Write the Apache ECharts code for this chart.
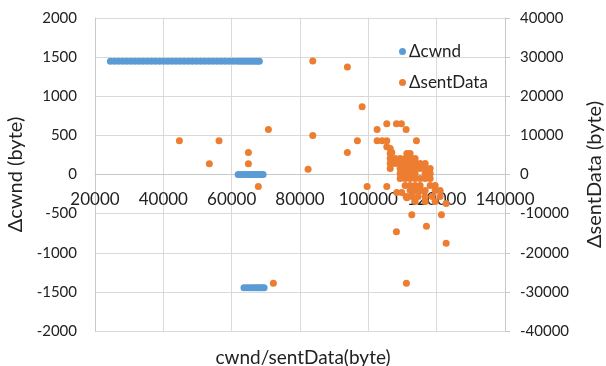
<!DOCTYPE html>
<html>
<head>
<meta charset="utf-8">
<script src="https://cdn.jsdelivr.net/npm/echarts@6/dist/echarts.min.js"></script>
<style>html,body{margin:0;padding:0;background:#fff;}#c{width:606px;height:366px;}</style>
</head>
<body>
<div id="c"></div>
<script>
// Δcwnd series (x = cwnd, y = Δcwnd), left axis
const cwndRowHighX = [24500,25700,26900,28100,29300,30500,31700,32900,34100,35300,36500,37700,38900,40100,41300,42500,43700,44900,46100,47300,48500,49700,50900,52100,53300,54500,55700,56900,58100,59300,60500,61700,62600,63400,64200,65000,65800,66600,67400,68100];
const cwndRowZeroX = [61900,62800,63600,64300,65000,65600,66200,66800,67400,68000,68600,69200];
const cwndRowLowX = [63600,64400,65200,65900,66600,67200,67800,68400,69000,69500];
const cwndHigh = 1448, cwndZero = 0, cwndLow = -1448;

// ΔsentData series (x = sentData, y = ΔsentData), right axis
const sentX = [44700,53470,56300,64900,64900,70750,67800,72200,83740,93870,98180,83740,96800,93870,82370,102570,105400,108220,109680,111060,102570,104030,105400,114080,105400,106870,99650,105400,108330,109790,111260,112720,108220,117010,121400,122770,111150,122770,
 106400,
 106400,111270,112230,
 106400,107840,109310,110770,112230,113700,
 106400,107840,109310,110770,112230,113700,115160,116630,
 106400,109310,110770,112230,113700,115160,116630,118090,
 109310,110770,112230,113700,116630,118090,
 109310,110770,112230,113700,115160,116630,118090,
 110770,112230,113700,115160,118090,119550,
 112230,113700,115160,116630,119550,121020,
 111060,112820,114570,116630,118670,121020,
 113700,116630,119550];
const sentY = [8620,2740,8620,5630,2740,11500,-3070,-27800,28980,27450,17320,9980,8620,5630,1360,11510,12970,12970,12970,11510,8620,8620,8620,8620,7090,5630,-3070,-3070,-4600,-4600,-5960,-10310,-14660,-13220,-10310,-17570,-27800,-7420,
 6650,
 5370,5370,5370,
 4090,4090,4090,4090,4090,4090,
 2810,2810,2810,2810,2810,2810,2810,2810,
 1530,1530,1530,1530,1530,1530,1530,1530,
 260,260,260,260,260,260,
 -1020,-1020,-1020,-1020,-1020,-1020,-1020,
 -2810,-2810,-2810,-2810,-2810,-2810,
 -4090,-4090,-4090,-4090,-4090,-4090,
 -5630,-5630,-5630,-5630,-5630,-5630,
 -6910,-6910,-6910];

const seriesNames = ['Δcwnd','ΔsentData'];
const xTitle = 'cwnd/sentData(byte)';
const yLeftTitle = 'Δcwnd (byte)';
const yRightTitle = 'ΔsentData (byte)';

const cwndData = [].concat(
  cwndRowHighX.map(x => [x, cwndHigh]),
  cwndRowZeroX.map(x => [x, cwndZero]),
  cwndRowLowX.map(x => [x, cwndLow])
);
const sentData = sentX.map((x, i) => [x, sentY[i]]);

const FONT = 'Lato';
const plain = v => String(v);
const chart = echarts.init(document.getElementById('c'), null, {renderer: 'canvas'});
chart.setOption({
  animation: false,
  backgroundColor: '#fff',
  textStyle: {fontFamily: FONT},
  grid: {left: 95, right: 101, top: 18, bottom: 35, containLabel: false, outerBoundsMode: 'none'},
  legend: {
    orient: 'vertical', left: 394, top: 38,
    itemWidth: 7, itemHeight: 7, itemGap: 14, icon: 'circle',
    textStyle: {fontFamily: FONT, fontSize: 17, color: '#222', padding: [0,0,0,-2]},
    data: seriesNames
  },
  xAxis: {
    type: 'value', min: 20000, max: 140000, interval: 20000,
    position: 'bottom', offset: -156.5,
    axisLine: {show: true, onZero: false, lineStyle: {color: '#c8c8c8', width: 1}},
    axisTick: {show: false},
    axisLabel: {fontFamily: FONT, fontSize: 17, color: '#222', margin: 17, formatter: plain},
    splitLine: {show: true, lineStyle: {color: '#d9d9d9', width: 1}}
  },
  yAxis: [
    {
      type: 'value', min: -2000, max: 2000, interval: 500, position: 'left',
      name: yLeftTitle, nameLocation: 'middle', nameGap: 63, nameRotate: 90,
      nameTextStyle: {fontFamily: FONT, fontSize: 20, color: '#222'},
      axisLine: {show: true, lineStyle: {color: '#c8c8c8'}},
      axisTick: {show: false},
      axisLabel: {fontFamily: FONT, fontSize: 15, color: '#222', margin: 18, formatter: plain},
      splitLine: {show: true, lineStyle: {color: '#d9d9d9', width: 1}}
    },
    {
      type: 'value', min: -40000, max: 40000, interval: 10000, position: 'right',
      name: yRightTitle, nameLocation: 'middle', nameGap: 80, nameRotate: 90,
      nameTextStyle: {fontFamily: FONT, fontSize: 20, color: '#222'},
      axisLine: {show: true, lineStyle: {color: '#c8c8c8'}},
      axisTick: {show: true, length: 5, inside: false, lineStyle: {color: '#c8c8c8'}},
      axisLabel: {fontFamily: FONT, fontSize: 15, color: '#222', margin: 15, formatter: plain},
      splitLine: {show: false}
    }
  ],
  graphic: [{
    type: 'text', left: 'center', top: 348,
    style: {text: xTitle, font: '19px Lato', fill: '#222', textAlign: 'center'}
  }],
  series: [
    {name: seriesNames[0], type: 'scatter', yAxisIndex: 0, symbol: 'circle', symbolSize: 7,
     itemStyle: {color: '#5b9bd5', opacity: 1}, data: cwndData, z: 3},
    {name: seriesNames[1], type: 'scatter', yAxisIndex: 1, symbol: 'circle', symbolSize: 7,
     itemStyle: {color: '#ed7d31', opacity: 1}, data: sentData, z: 4}
  ]
});
</script>
</body>
</html>
